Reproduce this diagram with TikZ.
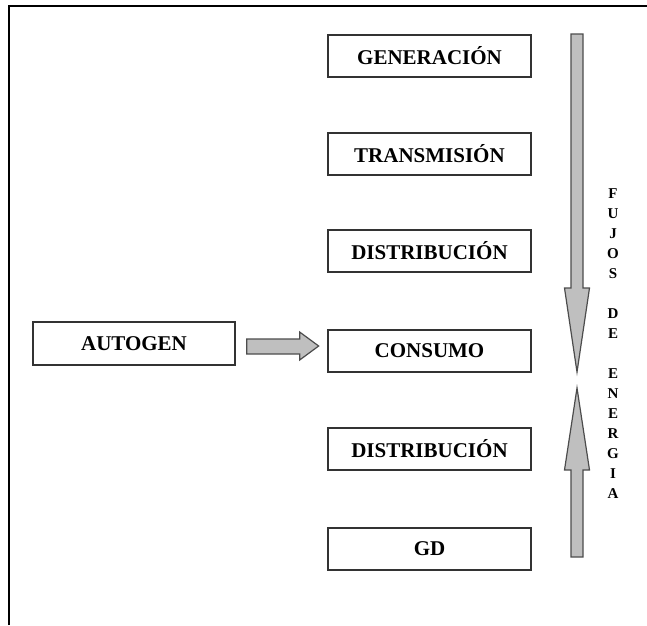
\documentclass[tikz,border=0pt]{standalone}
\usepackage{fontspec}
\setmainfont{Liberation Serif}
\begin{document}
\begin{tikzpicture}[x=1pt,y=-1pt,
  stage/.style={draw=black!80, line width=1.3pt, fill=white,
    minimum width=203pt, minimum height=42pt, inner sep=0pt,
    font=\fontsize{21}{21}\selectfont\bfseries},
  flowarrow/.style={fill=black!25, draw=black!70, line width=1.2pt, line join=miter},
  frameline/.style={line width=2pt, draw=black}]
\useasboundingbox (0,0) rectangle (647,625);
% outer frame (only the top and left edges fall inside the page)
\draw[frameline] (9,625) -- (9,6) -- (647,6);

% chain of stages
\node[stage] (gen)   at (429.5,56)  {GENERACIÓN};
\node[stage] (trans) at (429.5,154) {TRANSMISIÓN};
\node[stage] (dist1) at (429.5,251) {DISTRIBUCIÓN};
\node[stage] (cons)  at (429.5,351) {CONSUMO};
\node[stage] (dist2) at (429.5,449) {DISTRIBUCIÓN};
\node[stage] (gd)    at (429.5,549) {GD};
\node[stage, minimum width=202pt, minimum height=43pt] (autogen) at (134,343.5) {AUTOGEN};

% block arrow from AUTOGEN into CONSUMO
\draw[flowarrow, shift={(autogen.east)}]
  (11,-4.5) -- (64,-4.5) -- (64,-11.5) -- (83,2.5) -- (64,16.5) -- (64,10.5) -- (11,10.5) -- cycle;

% downward energy flow
\draw[flowarrow] (571,34) -- (583,34) -- (583,288) -- (589.5,288) -- (577,372)
  -- (564.5,288) -- (571,288) -- cycle;
% upward energy flow
\draw[flowarrow] (571,557) -- (583,557) -- (583,470) -- (589.5,470) -- (577,388)
  -- (564.5,470) -- (571,470) -- cycle;

% vertical caption
\node[align=center, inner sep=0pt, font=\fontsize{15}{20}\selectfont\bfseries] (flujos) at (613,344)
  {F\\U\\J\\O\\S\\\mbox{}\\D\\E\\\mbox{}\\E\\N\\E\\R\\G\\I\\A};
\end{tikzpicture}
\end{document}
